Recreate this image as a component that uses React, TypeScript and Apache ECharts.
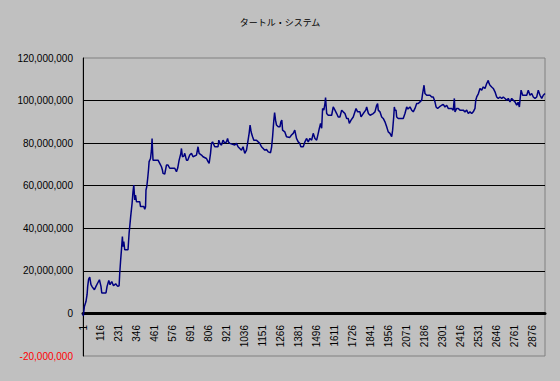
import React, { useEffect, useRef } from "react";
import * as echarts from "echarts";

const titleText = "タートル・システム";
const categoryCount = 2957;
const categories: string[] = Array.from({ length: categoryCount }, (_, i) => String(i + 1));

// sample positions (category index) and equity in millions
const pointIndex: number[] = [
  0, 2, 9, 19, 26, 30, 36, 43, 51, 59, 73, 83, 94, 105, 115, 120, 147, 154, 165, 173, 184, 195, 209, 222, 231,
  235, 241, 246, 252, 256, 261, 267, 288, 295, 299, 305, 314, 320, 325, 331, 336, 342, 363, 368, 389, 395, 400,
  403, 408, 414, 419, 423, 432, 438, 442, 445, 448, 459, 480, 491, 502, 508, 512, 523, 534, 544, 555, 587, 598,
  606, 615, 626, 630, 636, 645, 651, 662, 670, 683, 694, 704, 726, 736, 743, 758, 768, 790, 800, 807, 816, 822,
  829, 843, 864, 869, 878, 886, 896, 907, 918, 925, 931, 939, 971, 982, 992, 1003, 1014, 1024, 1035, 1046, 1053,
  1063, 1069, 1074, 1078, 1085, 1093, 1110, 1121, 1131, 1142, 1153, 1163, 1174, 1185, 1200, 1207, 1213, 1221,
  1226, 1232, 1238, 1249, 1260, 1266, 1272, 1277, 1291, 1302, 1323, 1334, 1345, 1355, 1366, 1377, 1387, 1394,
  1409, 1420, 1430, 1441, 1452, 1463, 1473, 1484, 1495, 1505, 1512, 1520, 1527, 1533, 1541, 1548, 1552, 1559,
  1569, 1591, 1601, 1612, 1623, 1633, 1644, 1655, 1665, 1676, 1687, 1697, 1704, 1715, 1729, 1740, 1747, 1757,
  1772, 1779, 1793, 1809, 1815, 1826, 1837, 1857, 1868, 1879, 1885, 1889, 1900, 1911, 1921, 1932, 1943, 1953,
  1964, 1975, 1981, 1988, 1992, 1996, 2003, 2007, 2017, 2039, 2049, 2060, 2071, 2079, 2092, 2103, 2113, 2124,
  2135, 2145, 2156, 2167, 2173, 2182, 2188, 2199, 2220, 2231, 2241, 2252, 2259, 2269, 2280, 2295, 2305, 2316,
  2327, 2337, 2359, 2369, 2376, 2380, 2391, 2401, 2412, 2433, 2444, 2455, 2465, 2476, 2487, 2497, 2508, 2513,
  2519, 2530, 2540, 2551, 2561, 2572, 2583, 2593, 2598, 2604, 2615, 2625, 2636, 2647, 2657, 2668, 2679, 2689,
  2700, 2711, 2721, 2732, 2743, 2753, 2764, 2775, 2784, 2792, 2796, 2803, 2813, 2828, 2839, 2849, 2860, 2871,
  2881, 2892, 2903, 2913, 2924, 2935, 2945, 2956,
];

const equityMillions: number[] = [
  0, -1.2, 3.3, 5.6, 8.8, 12.7, 16.1, 17.0, 13.5, 12.5, 11.1, 12.7, 14.3, 15.8, 12.7, 9.6, 9.6, 12.7, 15.5, 13.5,
  15.0, 13.0, 13.9, 12.7, 13.0, 18.9, 25.2, 29.9, 36.1, 31.4, 33.8, 29.9, 29.9, 37.7, 40.8, 45.5, 51.7, 57.2,
  60.3, 53.3, 55.6, 52.5, 52.5, 50.2, 50.2, 48.9, 50.0, 58.0, 59.5, 63.5, 67.4, 71.3, 72.8, 76.7, 82.2, 76.7,
  72.0, 72.0, 72.0, 70.5, 68.9, 67.4, 65.8, 65.5, 69.7, 69.7, 68.2, 68.2, 66.6, 68.3, 72.0, 75.2, 77.5, 73.6,
  73.9, 75.2, 72.0, 72.0, 74.4, 75.2, 73.6, 74.4, 78.3, 75.2, 74.4, 73.6, 72.8, 71.3, 70.5, 75.2, 79.9, 80.6,
  78.3, 78.3, 81.4, 79.5, 79.1, 81.4, 80.0, 80.6, 82.2, 80.5, 79.9, 79.1, 79.9, 78.3, 77.5, 76.7, 78.3, 75.2,
  76.7, 79.9, 84.6, 88.5, 86.1, 84.6, 83.0, 81.4, 81.4, 80.6, 79.9, 78.3, 77.5, 76.7, 77.1, 75.9, 75.5, 78.3,
  83.0, 90.8, 94.4, 90.8, 88.5, 87.7, 87.7, 90.0, 90.8, 86.1, 85.3, 83.0, 82.7, 83.8, 84.6, 86.1, 82.2, 80.6,
  79.9, 78.3, 78.3, 80.6, 82.2, 80.6, 82.2, 81.4, 84.6, 82.2, 81.4, 84.6, 86.9, 89.3, 87.0, 96.3, 95.5, 98.6,
  101.4, 93.9, 93.1, 93.1, 97.0, 95.5, 93.9, 92.3, 92.3, 95.5, 94.7, 93.9, 91.6, 91.6, 89.3, 90.8, 92.3, 94.7,
  96.3, 94.7, 94.7, 92.3, 93.9, 95.5, 97.0, 93.9, 93.1, 93.9, 94.7, 97.8, 98.6, 95.5, 94.7, 92.3, 91.6, 90.0,
  87.7, 85.3, 84.6, 83.0, 86.1, 92.3, 97.0, 95.5, 95.5, 92.3, 91.6, 91.6, 91.6, 93.9, 97.0, 96.0, 97.0, 95.5,
  94.7, 96.3, 98.6, 98.6, 99.4, 100.2, 103.3, 107.2, 103.3, 102.5, 102.5, 101.7, 101.7, 99.4, 97.0, 96.3, 97.0,
  97.8, 98.2, 97.0, 97.8, 96.3, 96.3, 95.5, 101.0, 94.7, 96.3, 96.3, 95.5, 95.5, 94.7, 95.5, 93.9, 94.7, 93.9,
  94.7, 96.3, 100.2, 101.7, 103.3, 105.7, 104.9, 106.4, 105.7, 108.0, 109.5, 108.1, 107.2, 106.4, 105.7, 104.1,
  101.7, 101.0, 101.7, 101.0, 101.7, 101.0, 100.2, 101.0, 99.4, 101.0, 100.2, 99.4, 97.8, 99.2, 97.0, 100.2,
  104.9, 102.5, 102.5, 102.5, 104.9, 102.5, 103.3, 101.7, 101.0, 101.7, 104.9, 102.5, 101.0, 102.5, 103.3,
];

const yMin = -20000000;
const yMax = 120000000;
const yStep = 20000000;
const labelEvery = 115;

export default function App() {
  const ref = useRef<HTMLDivElement>(null);
  useEffect(() => {
    if (!ref.current) return;
    const chart = echarts.init(ref.current, null, { renderer: "svg" });
    const seriesData = pointIndex.map((ix, k) => [ix, equityMillions[k] * 1000000]);
    chart.setOption({
      animation: false,
      backgroundColor: "#C0C0C0",
      textStyle: { fontFamily: "Liberation Sans, Arial, sans-serif" },
      title: {
        text: titleText,
        left: "center",
        top: 13,
        textStyle: {
          fontFamily: "Noto Sans CJK JP",
          fontSize: 9,
          fontWeight: "normal",
          color: "#000",
        },
      },
      grid: {
        left: 83,
        right: 15,
        top: 58,
        bottom: 25,
        outerBoundsMode: "none",
        containLabel: false,
        show: true,
        backgroundColor: "transparent",
        borderColor: "#808080",
        borderWidth: 1,
      },
      xAxis: {
        type: "category",
        data: categories,
        boundaryGap: false,
        axisLine: { onZero: true, lineStyle: { color: "#000", width: 3 } },
        axisTick: { show: false },
        axisLabel: {
          interval: labelEvery - 1,
          rotate: 90,
          margin: -31,
          fontSize: 10,
          color: "#000",
          hideOverlap: false,
          fontFamily: "Liberation Sans, Arial, sans-serif",
        },
        splitLine: { show: false },
      },
      yAxis: {
        type: "value",
        min: yMin,
        max: yMax,
        interval: yStep,
        axisLine: { show: true, lineStyle: { color: "#000", width: 1 } },
        axisTick: { show: false },
        axisLabel: {
          margin: 10,
          fontSize: 10,
          fontFamily: "Liberation Sans, Arial, sans-serif",
          color: (v: any) => (Number(v) < 0 ? "#FF0000" : "#000000"),
          formatter: (v: number) => v.toLocaleString("en-US"),
        },
        splitLine: {
          show: true,
          showMinLine: false,
          showMaxLine: false,
          lineStyle: { color: "#000", width: 1 },
        },
      },
      series: [
        {
          type: "line",
          data: seriesData,
          showSymbol: false,
          symbol: "none",
          lineStyle: { color: "#000080", width: 1.5 },
          z: 3,
        },
      ],
    });
    return () => chart.dispose();
  }, []);
  return (
    <div
      ref={ref}
      style={{ position: "fixed", left: 0, top: 0, width: 560, height: 381 }}
    />
  );
}
